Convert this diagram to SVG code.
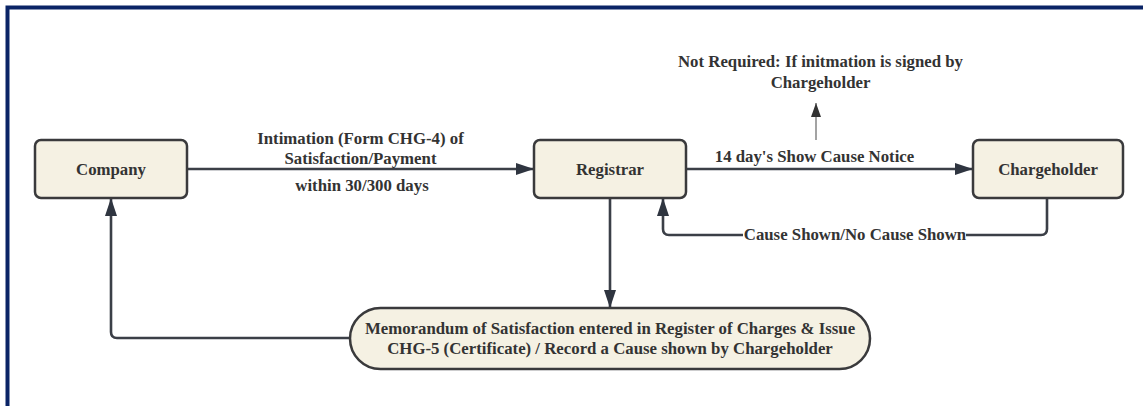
<svg xmlns="http://www.w3.org/2000/svg" width="1143" height="406" viewBox="0 0 1143 406">
<style>
.node{fill:#f5f1e3;stroke:#3a3a3c;stroke-width:2.5}
.t{font-family:"Liberation Serif","Times New Roman",serif;font-weight:bold;font-size:16.8px;fill:#333333;text-anchor:middle}
.c{fill:none;stroke:#3b3f47;stroke-width:2.6;stroke-linejoin:round}
.thin{fill:none;stroke:#666;stroke-width:1.2}
</style>
<defs>
<marker id="ah" viewBox="0 0 18 12" refX="18" refY="6" markerWidth="18" markerHeight="12" markerUnits="userSpaceOnUse" orient="auto">
<path d="M0,0 L18,6 L0,12 Z" fill="#2f3540"/>
</marker>
<marker id="ahs" viewBox="0 0 14 10" refX="14" refY="5" markerWidth="14" markerHeight="10" markerUnits="userSpaceOnUse" orient="auto">
<path d="M0,0 L14,5 L0,10 Z" fill="#333"/>
</marker>
</defs>
<rect width="1143" height="406" fill="#ffffff"/>
<path d="M7.5,406 V7.5 H1143" fill="none" stroke="#0a2466" stroke-width="4"/>
<g id="connectors">
<path class="c" d="M187,169 H534" marker-end="url(#ah)"/>
<path class="c" d="M686,169 H973" marker-end="url(#ah)"/>
<path class="c" d="M610,198 V308" marker-end="url(#ah)"/>
<path class="c" d="M1047,198 V229 Q1047,235 1041,235 H669 Q663,235 663,229 V198" marker-end="url(#ah)"/>
<path class="c" d="M350,338 H117 Q111,338 111,332 V198" marker-end="url(#ah)"/>
<path class="thin" d="M816,140 V103" marker-end="url(#ahs)"/>
<rect x="743" y="226" width="223" height="18" fill="#ffffff"/>
<text class="t" x="855" y="240">Cause Shown/No Cause Shown</text>
<text class="t" x="360.5" y="144">Intimation (Form CHG-4) of</text>
<text class="t" x="360.5" y="164">Satisfaction/Payment</text>
<text class="t" x="362" y="191">within 30/300 days</text>
<text class="t" x="814.5" y="162">14 day's Show Cause Notice</text>
<text class="t" x="820.5" y="67">Not Required: If initmation is signed by</text>
<text class="t" x="820.5" y="88">Chargeholder</text>
</g>
<g id="company">
<rect class="node" x="35" y="140" width="152" height="58" rx="6"/>
<text class="t" x="111" y="175">Company</text>
</g>
<g id="registrar">
<rect class="node" x="534" y="140" width="152" height="58" rx="6"/>
<text class="t" x="610" y="175">Registrar</text>
</g>
<g id="chargeholder">
<rect class="node" x="973" y="140" width="150" height="58" rx="6"/>
<text class="t" x="1048" y="175">Chargeholder</text>
</g>
<g id="memorandum">
<rect class="node" x="350" y="308" width="520" height="61" rx="30.5"/>
<text class="t" x="610" y="334">Memorandum of Satisfaction entered in Register of Charges &amp; Issue</text>
<text class="t" x="610" y="354">CHG-5 (Certificate) / Record a Cause shown by Chargeholder</text>
</g>
</svg>
